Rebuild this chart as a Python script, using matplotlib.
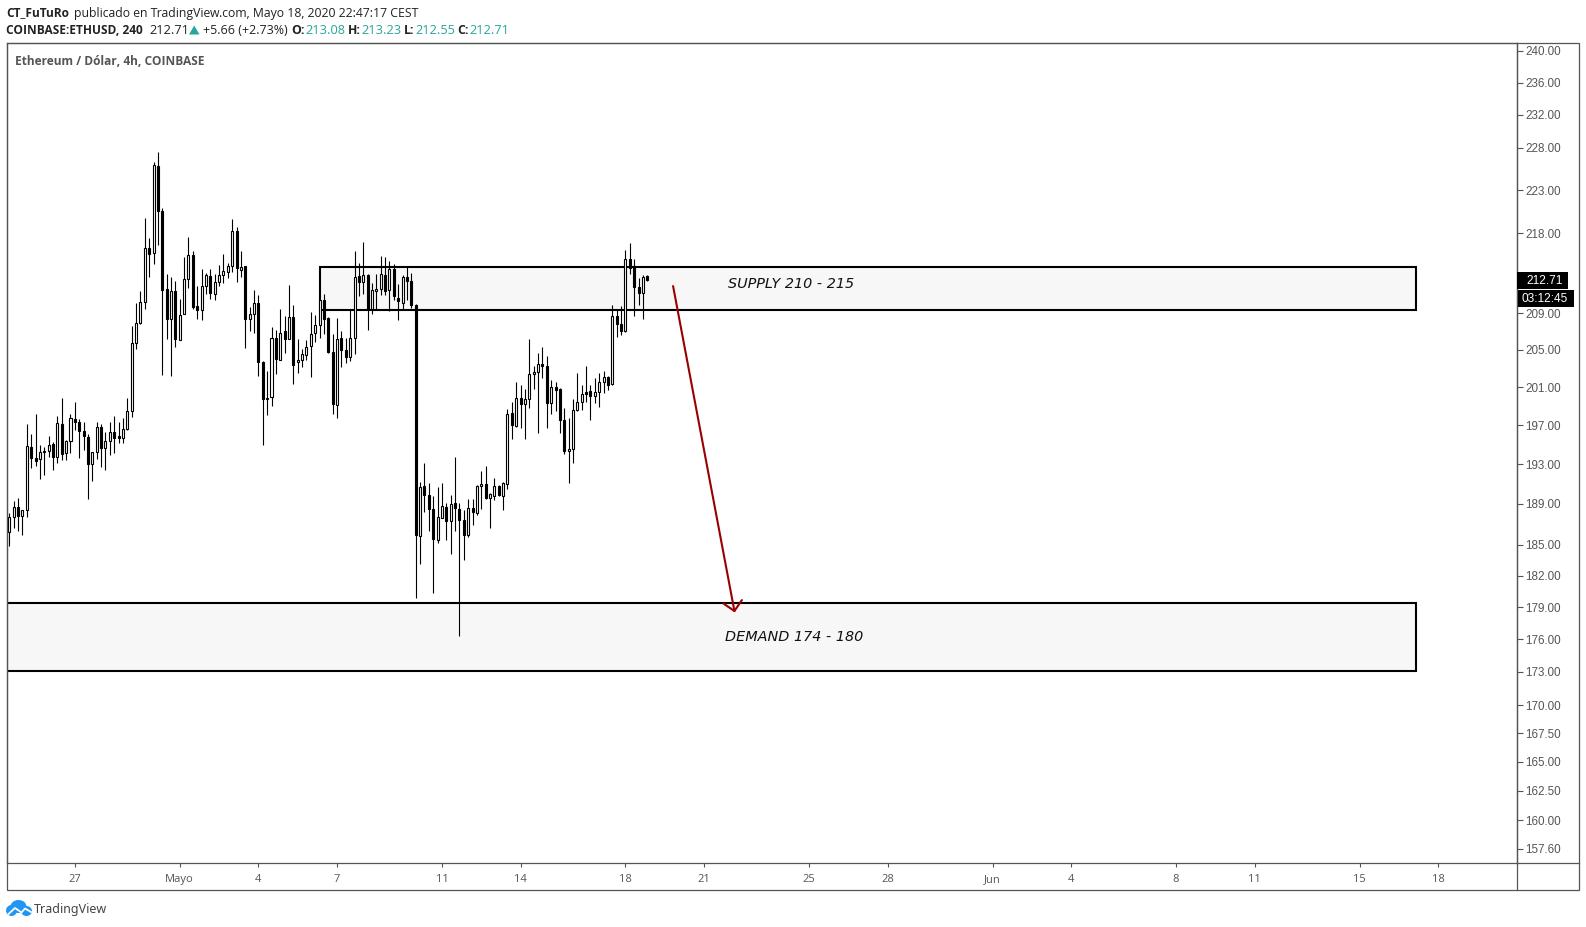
import numpy as np
import matplotlib
matplotlib.use("Agg")
import matplotlib.pyplot as plt
from matplotlib.lines import Line2D
from matplotlib.patches import Rectangle, Polygon, Ellipse

# Velas de 4h (O, H, L, C)
opens = [186.2, 187.7, 188.7, 187.8, 188.4, 194.8, 193.6, 193.5, 194.4, 194.4, 195.1, 193.7, 197.1, 194.1, 195.4,
         197.7, 197.3, 196.4, 195.8, 193.0, 194.2, 196.8, 194.7, 195.4, 196.3, 195.9, 195.7, 196.6, 198.5, 205.7,
         207.9, 210.2, 216.3, 215.7, 225.9, 220.6, 211.7, 208.3, 211.5, 206.1, 208.9, 212.8, 215.5, 209.8, 209.3,
         212.0, 213.1, 211.1, 212.4, 213.2, 213.6, 214.2, 218.2, 213.8, 214.2, 208.3, 208.9, 210.1, 203.7, 199.7,
         200.0, 206.3, 203.9, 207.0, 206.2, 208.6, 203.7, 203.9, 204.4, 205.4, 206.8, 207.7, 210.4, 208.5, 204.8,
         199.1, 206.3, 205.0, 204.2, 206.3, 213.1, 212.4, 213.2, 209.4, 211.5, 211.7, 213.2, 211.6, 213.9, 210.7,
         210.1, 213.0, 212.6, 209.9, 185.8, 190.8, 189.9, 188.5, 185.4, 187.6, 188.7, 187.3, 189.1, 188.5, 187.4,
         185.9, 188.6, 188.1, 190.8, 191.0, 189.6, 189.8, 190.8, 189.8, 191.0, 198.3, 196.9, 199.9, 199.2, 199.8,
         202.4, 202.6, 203.5, 203.3, 199.3, 201.0, 200.8, 197.6, 194.4, 194.6, 198.6, 199.4, 200.5, 200.6, 200.1,
         200.5, 201.5, 202.1, 201.3, 208.7, 207.8, 207.0, 215.0, 214.2, 211.9, 211.2, 213.08]
highs = [188.1, 189.3, 189.6, 188.4, 197.1, 196.1, 198.2, 195.0, 194.8, 195.9, 195.3, 198.0, 199.9, 195.5, 198.2,
         199.4, 197.7, 197.3, 196.1, 194.3, 197.3, 197.1, 196.3, 197.3, 198.0, 197.3, 197.8, 199.9, 207.6, 210.1,
         211.5, 219.7, 217.4, 226.3, 227.5, 220.9, 213.4, 213.0, 212.6, 210.6, 215.3, 217.6, 216.0, 212.0, 213.9,
         213.5, 213.9, 213.3, 214.4, 215.6, 214.6, 219.6, 218.7, 216.0, 214.3, 209.7, 211.6, 211.0, 203.8, 202.7,
         207.5, 207.2, 209.4, 208.7, 212.1, 209.9, 206.2, 205.1, 206.1, 209.1, 208.8, 210.4, 211.1, 208.6, 206.7,
         208.5, 207.0, 206.3, 209.3, 216.0, 214.6, 217.0, 213.3, 212.3, 213.3, 215.4, 215.3, 214.8, 214.5, 212.2,
         213.2, 214.3, 213.5, 210.0, 191.2, 193.1, 191.1, 189.8, 190.7, 191.1, 189.1, 189.9, 193.7, 189.1, 188.4,
         189.5, 189.5, 190.9, 192.3, 192.8, 190.1, 191.6, 190.9, 191.2, 198.7, 199.4, 201.5, 201.2, 200.8, 206.2,
         203.3, 204.6, 205.3, 204.3, 201.8, 201.5, 200.9, 198.8, 197.8, 199.7, 202.5, 201.2, 203.3, 201.2, 202.0,
         202.5, 202.7, 202.2, 209.9, 209.3, 209.8, 216.1, 216.9, 215.1, 212.9, 213.2, 213.23]
lows = [184.9, 186.6, 186.3, 185.9, 187.7, 192.6, 192.8, 191.5, 191.9, 193.7, 192.4, 193.1, 193.4, 193.4, 194.1,
        196.5, 193.6, 194.5, 189.5, 191.3, 193.5, 192.7, 192.4, 193.9, 194.1, 195.2, 195.2, 196.5, 197.9, 205.1,
        207.8, 209.4, 213.0, 214.5, 216.6, 202.3, 206.2, 202.2, 205.3, 206.1, 208.9, 211.8, 209.4, 208.4, 208.2,
        211.1, 210.6, 210.4, 212.0, 212.3, 212.9, 213.6, 212.4, 213.0, 205.2, 207.0, 206.8, 202.2, 195.0, 198.1,
        199.0, 202.4, 203.9, 204.6, 206.2, 201.3, 202.5, 203.1, 203.9, 202.1, 205.8, 206.3, 206.7, 204.6, 198.2,
        197.8, 203.1, 203.6, 203.8, 204.5, 210.9, 211.1, 207.1, 208.9, 209.4, 211.0, 211.0, 209.2, 210.4, 208.2,
        209.4, 210.5, 209.6, 179.9, 183.1, 188.2, 186.3, 180.3, 185.2, 187.6, 185.4, 184.1, 186.3, 176.3, 183.5,
        185.7, 186.9, 187.9, 188.5, 189.5, 186.6, 189.4, 189.8, 188.4, 190.5, 195.6, 196.8, 196.7, 195.6, 198.8,
        200.8, 196.2, 202.0, 196.7, 198.2, 198.5, 196.2, 194.0, 191.1, 193.1, 198.5, 198.6, 199.4, 197.6, 199.3,
        198.9, 200.4, 200.7, 201.2, 206.4, 206.6, 206.9, 213.3, 208.7, 209.9, 208.4, 212.55]
closes = [187.7, 188.7, 187.8, 188.4, 194.9, 193.6, 193.3, 194.2, 194.2, 195.0, 193.7, 197.2, 194.0, 195.4, 197.8,
          197.3, 196.4, 195.9, 193.0, 194.2, 196.8, 194.7, 195.4, 196.3, 195.7, 195.7, 196.6, 198.5, 205.7, 207.9,
          210.2, 216.3, 215.6, 226.0, 220.5, 211.6, 208.3, 211.5, 206.2, 208.8, 212.8, 215.5, 209.7, 209.3, 212.0,
          213.2, 211.2, 212.4, 213.2, 213.7, 214.2, 218.2, 214.0, 214.1, 208.3, 208.9, 210.1, 203.7, 199.7, 199.9,
          206.3, 204.0, 206.8, 206.2, 208.6, 203.4, 203.9, 204.5, 205.3, 206.7, 207.7, 210.4, 208.4, 204.8, 199.2,
          206.2, 205.0, 204.2, 206.3, 213.0, 212.4, 213.2, 209.4, 211.6, 211.7, 213.3, 211.5, 213.9, 210.9, 210.3,
          213.0, 212.6, 209.9, 185.9, 190.7, 189.9, 188.5, 185.5, 187.7, 188.8, 187.3, 189.0, 188.6, 187.4, 185.9,
          188.6, 188.2, 190.8, 191.0, 189.6, 190.0, 190.8, 189.9, 191.1, 198.2, 197.0, 199.9, 199.2, 199.8, 202.4,
          202.6, 203.5, 203.3, 199.3, 201.0, 200.7, 197.6, 194.4, 194.6, 198.6, 199.4, 200.3, 200.3, 200.1, 200.5,
          201.5, 202.1, 201.2, 208.7, 207.8, 207.0, 215.0, 214.0, 211.9, 211.2, 213.0, 212.71]

price_ticks = [240, 236, 232, 228, 223, 218, 209, 205, 201, 197, 193, 189, 185, 182, 179, 176, 173, 170,
               167.5, 165, 162.5, 160, 157.6]
date_ticks = [15, 39, 57, 75, 99, 117, 141, 159, 183, 201, 225, 243, 267, 285, 309, 327]
date_labels = ["27", "Mayo", "4", "7", "11", "14", "18", "21", "25", "28", "Jun", "4", "8", "11", "15", "18"]

supply_zone = [209.33, 214.15]
demand_zone = [173.1, 179.4]
zone_end = 322
supply_start = 71
arrow_from = [151.9, 212.0]
arrow_to = [166.0, 178.5]
last_price = 212.71

W, H = 1586, 927


# Pasar de pixeles a coordenadas de figura
def px(x, y):
    return x / W, 1 - y / H


def label(x, y, s, color="#222222", bold=False, size=8.8, family="Open Sans"):
    fig.text(*px(x, y), s, color=color, fontsize=size, family=family, va="center",
             fontweight="bold" if bold else "normal")


fig = plt.figure(figsize=(W / 100, H / 100), dpi=100)

left, right, top, bottom = 6.7, 1517.3, 43.3, 863.3
ax = fig.add_axes([left / W, 1 - bottom / H, (right - left) / W, (bottom - top) / H])
ax.set_yscale("log")
ax.set_xlim(-0.6, 345.1)
ax.set_ylim(156.4, 240.93)

frame_color = "#555555"
for s in ax.spines.values():
    s.set_color(frame_color)
    s.set_linewidth(0.9)

# Zonas de oferta y demanda
ax.add_patch(Rectangle((supply_start, supply_zone[0]), zone_end - supply_start, supply_zone[1] - supply_zone[0],
                       facecolor="#f7f7f7", edgecolor="black", linewidth=1.5, zorder=1))
ax.add_patch(Rectangle((-5, demand_zone[0]), zone_end + 5, demand_zone[1] - demand_zone[0],
                       facecolor="#f7f7f7", edgecolor="black", linewidth=1.5, zorder=1))

# Velas
idx = np.arange(len(opens))
o, h, l, c = np.array(opens), np.array(highs), np.array(lows), np.array(closes)
ax.vlines(idx, l, h, color="black", linewidth=0.8, zorder=2)
body_low = np.minimum(o, c)
body_high = np.maximum(o, c)
colors = ["white" if up else "black" for up in c >= o]
ax.bar(idx, body_high - body_low, bottom=body_low, width=0.46, color=colors, edgecolor="black",
       linewidth=0.8, zorder=3)

ax.annotate("", xy=arrow_to, xytext=arrow_from, zorder=4,
            arrowprops=dict(arrowstyle="->,head_length=0.42,head_width=0.42", color="#990000", lw=1.5,
                            shrinkA=0, shrinkB=0, mutation_scale=16))

ax.text(179, 212.2, "SUPPLY 210 - 215", style="italic", fontsize=10.4, family="DejaVu Sans", color="#111111",
        ha="center", va="center", zorder=5)
ax.text(179.5, 176.2, "DEMAND 174 - 180", style="italic", fontsize=10.4, family="DejaVu Sans", color="#111111",
        ha="center", va="center", zorder=5)

# Ejes
ax.yaxis.tick_right()
ax.set_yticks(price_ticks)
ax.set_yticklabels(["%.2f" % p for p in price_ticks], family="Liberation Sans", fontsize=8.4, color="#555555")
ax.minorticks_off()
ax.tick_params(axis="y", length=4, width=0.8, color=frame_color, pad=2)
ax.set_xticks(date_ticks)
ax.set_xticklabels(date_labels, family="Open Sans", fontsize=8, color="#555555")
ax.tick_params(axis="x", length=3, width=0.8, color=frame_color, pad=5)

# Marco exterior
fig.add_artist(Rectangle(px(left, 890.3), (1579.3 - left) / W, (890.3 - top) / H, transform=fig.transFigure,
                         fill=False, edgecolor=frame_color, linewidth=0.9))
fig.add_artist(Line2D([right / W, right / W], [1 - 890.3 / H, 1 - top / H], color=frame_color, linewidth=0.9))
fig.add_artist(Line2D([right / W, 1579.3 / W], [1 - bottom / H, 1 - bottom / H], color=frame_color, linewidth=0.9))

# Etiquetas de precio y cuenta atras
fig.add_artist(Rectangle(px(right, 289), 50.5 / W, 17 / H, transform=fig.transFigure, facecolor="black", zorder=6))
fig.add_artist(Rectangle(px(right + 0.5, 306.7), 56 / W, 16.5 / H, transform=fig.transFigure, facecolor="black", zorder=6))
fig.text(*px(1526, 280.5), "%.2f" % last_price, color="white", fontsize=8.6, family="Liberation Sans", va="center", zorder=7)
fig.text(*px(1522, 298.5), "03:12:45", color="white", fontsize=8.6, family="Liberation Sans", va="center", zorder=7)

# Cabecera
teal = "#26a69a"
label(6.5, 13, "CT_FuTuRo", bold=True, size=8.6)
label(74.5, 13, "publicado en TradingView.com, Mayo 18, 2020 22:47:17 CEST")
label(6.5, 30.3, "COINBASE:ETHUSD, 240", bold=True, size=8.6)
label(149.5, 30.3, "212.71", size=9.2)
fig.add_artist(Polygon([px(189, 34.5), px(199.5, 34.5), px(194.2, 25.5)], transform=fig.transFigure, facecolor=teal))
label(203.3, 30.3, "+5.66 (+2.73%)", size=9)
for xk, xv, k, v in [(291.7, 305.3, "O:", "213.08"), (347.7, 361.7, "H:", "213.23"),
                     (404, 415, "L:", "212.55"), (457, 469.3, "C:", "212.71")]:
    label(xk, 30.3, k, bold=True)
    label(xv, 30.3, v, color=teal, size=9.2)
label(15, 61.3, "Ethereum / Dólar, 4h, COINBASE", color="#555555", bold=True, size=8.6)

# Logo de TradingView
blue = "#2196f3"
for cx, cy, ew, eh in [(11.5, 910.5, 11, 11), (18.5, 906.5, 16, 13), (26.5, 911, 11, 10)]:
    fig.add_artist(Ellipse(px(cx, cy), ew / W, eh / H, transform=fig.transFigure, facecolor=blue, edgecolor="none"))
fig.add_artist(Line2D([8.5 / W, 15 / W, 21.5 / W, 25 / W, 31 / W],
                      [1 - 914 / H, 1 - 908 / H, 1 - 912.5 / H, 1 - 908.5 / H, 1 - 912 / H], color="white", linewidth=1.3))
label(34, 909, "TradingView", color="#444444", size=9, family="Noto Sans")

fig.savefig("out.png", dpi=100)
